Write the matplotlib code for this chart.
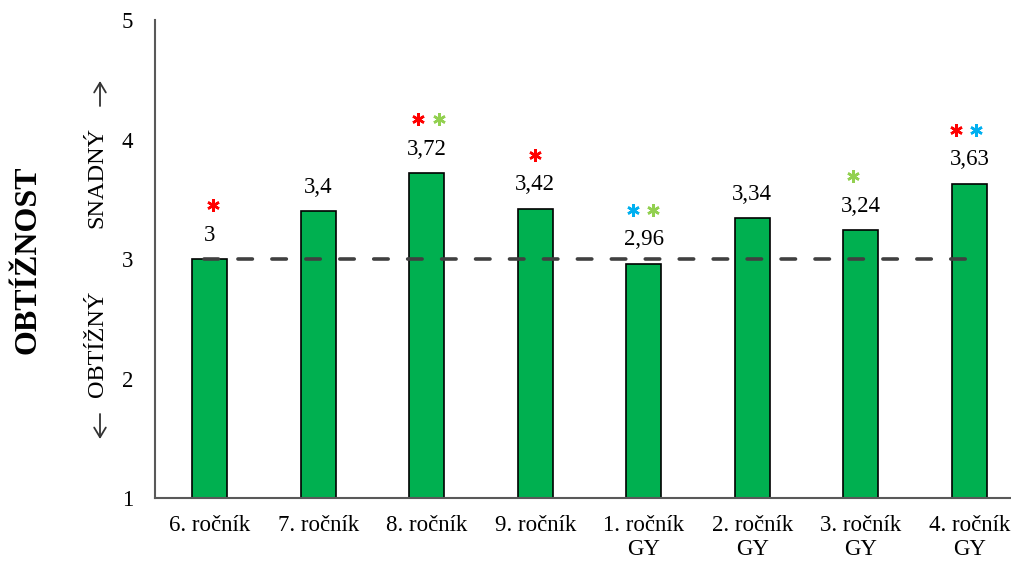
import matplotlib.pyplot as plt
from matplotlib.transforms import ScaledTranslation

plt.rcParams['font.family'] = ['Liberation Serif', 'DejaVu Serif']

categories = ['6. ročník', '7. ročník', '8. ročník', '9. ročník',
              '1. ročník\nGY', '2. ročník\nGY', '3. ročník\nGY', '4. ročník\nGY']
values = [3.0, 3.4, 3.72, 3.42, 2.96, 3.34, 3.24, 3.63]
value_labels = ['3', '3,4', '3,72', '3,42', '2,96', '3,34', '3,24', '3,63']
# significance stars above each bar: (colour key, x offset in px)
stars = [
    [('r', 3)],
    [],
    [('r', -9), ('g', 12)],
    [('r', 0)],
    [('b', -11), ('g', 9)],
    [],
    [('g', -8)],
    [('r', -13), ('b', 7)],
]
star_colors = {'r': '#FF0000', 'g': '#92D050', 'b': '#00B0F0'}
neutral = 3

fig = plt.figure(figsize=(10.12, 5.62), dpi=100)
ax = fig.add_axes([0.1535, 0.114, 0.858, 0.850])

x = list(range(len(categories)))
ax.bar(x, values, width=0.32, color='#00B050', edgecolor='black',
       linewidth=1.2, zorder=2)

# neutral level
ax.plot([-0.05, len(x) - 1 + 0.05], [neutral, neutral], color='#404040',
        linewidth=2.6, linestyle=(0, (4.0, 5.4)), dash_capstyle='round',
        zorder=3)

for xi, v, lab, st in zip(x, values, value_labels, stars):
    ax.annotate(lab, (xi, v), xytext=(0, 24), textcoords='offset pixels',
                ha='center', va='center', fontsize=16.5)
    for key, dx in st:
        shift = ScaledTranslation(dx / 100, 54 / 100, fig.dpi_scale_trans)
        ax.plot([xi], [v], linestyle='none', marker=(6, 2, 0),
                markersize=9, markeredgewidth=1.8,
                markeredgecolor=star_colors[key],
                transform=ax.transData + shift, clip_on=False)

ax.set_xlim(-0.5, len(x) - 0.5)
ax.set_ylim(1, 5)
ax.set_yticks([1, 2, 3, 4, 5])
ax.set_xticks(x)
ax.set_xticklabels(categories)
ax.tick_params(axis='both', length=0, labelsize=16.5)
ax.tick_params(axis='y', pad=16)
ax.tick_params(axis='x', pad=12)

for side in ['top', 'right']:
    ax.spines[side].set_visible(False)
for side in ['left', 'bottom']:
    ax.spines[side].set_color('#595959')
    ax.spines[side].set_linewidth(1.5)

fig.text(0.028, 1 - 260 / 562, 'OBTÍŽNOST', rotation=90, ha='center',
         va='center', fontsize=23, fontweight='bold')

# direction hints next to the y axis
fig.text(0.096, 1 - 344 / 562, 'OBTÍŽNÝ', rotation=90, ha='center',
         va='center', fontsize=17.5)
fig.text(0.096, 1 - 177 / 562, 'SNADNÝ', rotation=90, ha='center',
         va='center', fontsize=17.5)
arrow = dict(arrowstyle='->,head_length=0.5,head_width=0.3',
             color='#333333', linewidth=1.3, shrinkA=0, shrinkB=0,
             mutation_scale=14)
ax.annotate('', xy=(100, 562 - 439), xytext=(100, 562 - 414),
            xycoords='figure pixels', textcoords='figure pixels',
            arrowprops=arrow, annotation_clip=False)
ax.annotate('', xy=(100, 562 - 81), xytext=(100, 562 - 106),
            xycoords='figure pixels', textcoords='figure pixels',
            arrowprops=arrow, annotation_clip=False)

fig.savefig('out.png', dpi=100)
